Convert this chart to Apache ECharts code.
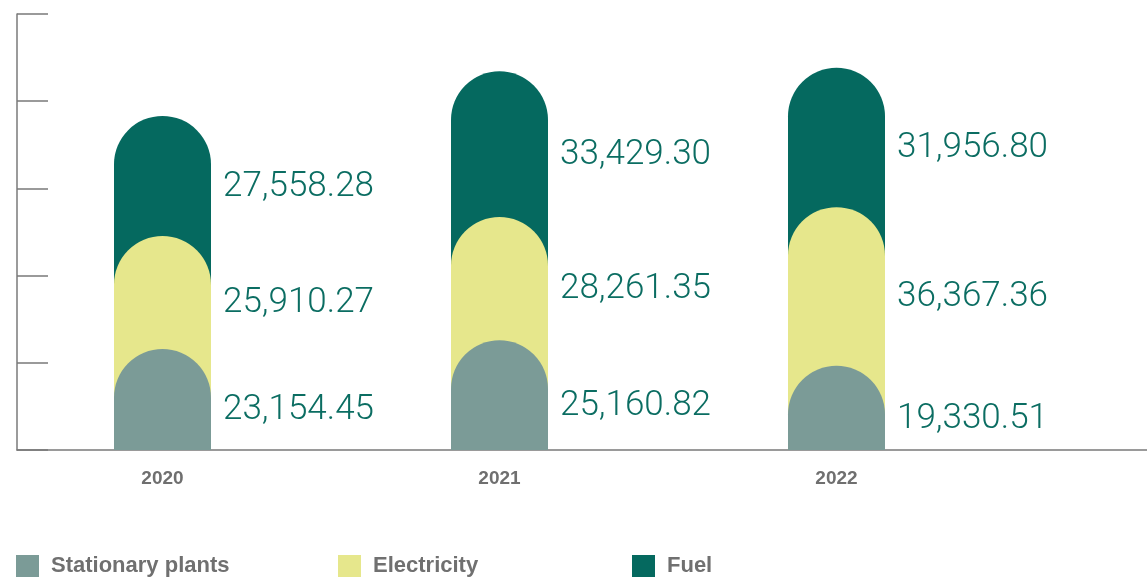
<!DOCTYPE html>
<html>
<head>
<meta charset="utf-8">
<script src="https://cdn.jsdelivr.net/npm/echarts@6/dist/echarts.min.js"></script>
<style>
  html, body { margin: 0; padding: 0; background: #fff; }
  #chart { width: 1147px; height: 579px; }
</style>
</head>
<body>
<div id="chart"></div>
<script>
// data
const years = ['2020', '2021', '2022']
const stationaryPlants = [23154.45, 25160.82, 19330.51]
const electricity = [25910.27, 28261.35, 36367.36]
const fuel = [27558.28, 33429.30, 31956.80]
const axisMax = 100000
const axisStep = 20000

const colGrey = '#7b9b97'
const colYellow = '#e6e78c'
const colGreen = '#05695f'
const colText = '#0b6d62'

// the visible pills overlap, so each one is drawn from 0 up to its running total
const upToStationary = stationaryPlants.slice()
const upToElectricity = stationaryPlants.map((v, i) => v + electricity[i])
const upToFuel = upToElectricity.map((v, i) => v + fuel[i])

const barW = 97
const radius = [barW / 2, barW / 2, 0, 0]

function fmt(v) {
  return Number(v).toLocaleString('en-US', { minimumFractionDigits: 2, maximumFractionDigits: 2 })
}

function pill(name, data, color) {
  return {
    name: name,
    type: 'bar',
    xAxisIndex: 1,
    yAxisIndex: 1,
    barWidth: barW,
    barGap: '-100%',
    silent: true,
    itemStyle: { color: color, borderRadius: radius },
    data: data
  }
}

// invisible stacked bars, only there to place the value labels per segment
function labelBar(name, data) {
  return {
    name: name,
    type: 'bar',
    xAxisIndex: 1,
    yAxisIndex: 1,
    stack: 'labels',
    barWidth: barW,
    barGap: '-100%',
    silent: true,
    itemStyle: { color: 'rgba(0,0,0,0)' },
    label: {
      show: true,
      position: 'right',
      distance: 12,
      offset: [0, 11],
      color: colText,
      fontFamily: 'Roboto',
      fontWeight: 300,
      fontSize: 35,
      formatter: p => fmt(p.value)
    },
    data: data
  }
}

function legendAt(name, left) {
  return {
    data: [name],
    left: left,
    top: 555,
    padding: 0,
    icon: 'rect',
    itemWidth: 23,
    itemHeight: 22,
    selectedMode: false,
    textStyle: {
      color: '#707070',
      fontFamily: 'Liberation Sans',
      fontWeight: 'bold',
      fontSize: 22,
      padding: [0, 0, 0, 7]
    }
  }
}

const myChart = echarts.init(document.getElementById('chart'))
const option = {
  animation: false,
  grid: [
    { left: 17, right: 0, top: 14, bottom: 129, outerBoundsMode: 'none' },
    { left: -6, width: 1011, top: 14, bottom: 129, outerBoundsMode: 'none' }
  ],
  legend: [
    legendAt('Stationary plants', 16),
    legendAt('Electricity', 338),
    legendAt('Fuel', 632)
  ],
  xAxis: [
    {
      gridIndex: 0,
      type: 'value',
      min: 0,
      max: 1,
      axisLine: { show: true, lineStyle: { color: '#7a7a7a', width: 1.5 } },
      axisTick: { show: false },
      axisLabel: { show: false },
      splitLine: { show: false }
    },
    {
      gridIndex: 1,
      type: 'category',
      data: years,
      axisLine: { show: false },
      axisTick: { show: false },
      axisLabel: {
        margin: 19,
        color: '#6f6f6f',
        fontFamily: 'Liberation Sans',
        fontWeight: 'bold',
        fontSize: 19
      }
    }
  ],
  yAxis: [
    {
      gridIndex: 0,
      type: 'value',
      min: 0,
      max: axisMax,
      interval: axisStep,
      axisLine: { show: true, lineStyle: { color: '#7a7a7a', width: 1.5 } },
      axisTick: { show: true, inside: true, length: 31, lineStyle: { color: '#7a7a7a', width: 1.5 } },
      axisLabel: { show: false },
      splitLine: { show: false }
    },
    {
      gridIndex: 1,
      type: 'value',
      min: 0,
      max: axisMax,
      show: false
    }
  ],
  series: [
    pill('Fuel', upToFuel, colGreen),
    pill('Electricity', upToElectricity, colYellow),
    pill('Stationary plants', upToStationary, colGrey),
    labelBar('lbl-stationary', stationaryPlants),
    labelBar('lbl-electricity', electricity),
    labelBar('lbl-fuel', fuel)
  ]
}
myChart.setOption(option)
</script>
</body>
</html>
